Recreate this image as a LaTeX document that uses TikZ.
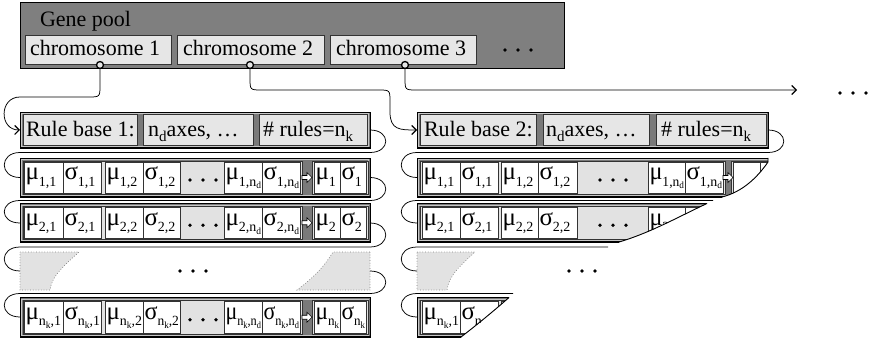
\documentclass[tikz,border=0pt]{standalone}
\usepackage{fontspec}
\setmainfont{Liberation Serif}
\usetikzlibrary{arrows.meta}

\definecolor{poolgray}{HTML}{7F7F7F}
\definecolor{framegray}{HTML}{7A7A7A}
\definecolor{cellgray}{HTML}{E6E6E6}
\definecolor{padgray}{HTML}{E2E2E2}
\definecolor{edgegray}{HTML}{333333}

% Greek parameter letters and their lowered indices
\newcommand\gmu{{\fontsize{25}{25}\selectfont μ}}
\newcommand\gsig{{\fontsize{25}{25}\selectfont σ}}
\newcommand\lowsub[1]{\raisebox{-6pt}{\fontsize{14}{14}\selectfont #1}}
\newcommand\lowsubsub[1]{\raisebox{-3pt}{\fontsize{9.5}{9.5}\selectfont #1}}
\newcommand\nksub{n\lowsubsub{k}}
\newcommand\ndsub{n\lowsubsub{d}}

% squeeze a label horizontally when it is wider than its cell
\newsavebox\cellcontent
\newcommand\fitcell[2]{%
  \sbox\cellcontent{#2}%
  \ifdim\wd\cellcontent>#1pt\relax\resizebox{#1pt}{\height}{\usebox\cellcontent}\else\usebox\cellcontent\fi}

% one parameter cell between two x positions of the current row
\newcommand\pcell[3]{%
  \pgfmathsetmacro\cellw{#2-#1-2.5}%
  \draw[whitecell] (#1,\rowtop+4) rectangle (#2,\rowbot-4);
  \node[gtxt] at (#1+1.5,\rowmid+2.5) {\fitcell{\cellw}{#3}};}
% three bullets, first x and y given
\newcommand\rowdots[2]{%
  \foreach \dx in {0,13,26} \fill (#1+\dx,#2) circle (1.8pt);}
% small hollow arrow between the parameter block and the rule block
\newcommand\hollowarrow[2]{%
  \draw[fill=white,line width=0.6pt] (#1,#2-2) -- (#1+5,#2-2) -- (#1+5,#2-5)
    -- (#1+10,#2) -- (#1+5,#2+5) -- (#1+5,#2+2) -- (#1,#2+2) -- cycle;}
% raised frame of a row
\newcommand\rowframe[4]{%
  \draw[framebox] (#1,#2) rectangle (#3,#4);
  \draw[gray!45,line width=0.5pt] (#1+1.4,#2+1.4) rectangle (#3-1.4,#4-1.4);
  \draw[black,line width=1.4pt] (#1,#4) -- (#3,#4);}

% a rule row of the first rule base: top, bottom, rule index
\newcommand\geneRowA[3]{%
  \pgfmathsetmacro\rowtop{#1}\pgfmathsetmacro\rowbot{#2}\pgfmathsetmacro\rowmid{(#1+#2)/2}%
  \rowframe{20}{\rowtop}{370}{\rowbot}
  \draw[padbox] (23,\rowtop+3) rectangle (302,\rowbot-3);
  \draw[padbox] (312,\rowtop+3) rectangle (368,\rowbot-3);
  \pcell{24}{63}{\gmu\lowsub{#3,1}}
  \pcell{63}{101}{\gsig\lowsub{#3,1}}
  \pcell{105}{143}{\gmu\lowsub{#3,2}}
  \pcell{143}{180}{\gsig\lowsub{#3,2}}
  \pcell{224}{262}{\gmu\lowsub{#3,\ndsub}}
  \pcell{262}{300}{\gsig\lowsub{#3,\ndsub}}
  \pcell{314}{340}{\gmu\lowsub{#3}}
  \pcell{340}{366}{\gsig\lowsub{#3}}
  \rowdots{190}{\rowmid+2.5}
  \hollowarrow{302}{\rowmid}}

% a rule row of the second rule base: top, bottom, rule index
\newcommand\geneRowB[3]{%
  \pgfmathsetmacro\rowtop{#1}\pgfmathsetmacro\rowbot{#2}\pgfmathsetmacro\rowmid{(#1+#2)/2}%
  \rowframe{417}{\rowtop}{795}{\rowbot}
  \draw[padbox] (420,\rowtop+3) rectangle (725,\rowbot-3);
  \draw[padbox] (731,\rowtop+3) rectangle (792,\rowbot-3);
  \pcell{422}{460}{\gmu\lowsub{#3,1}}
  \pcell{460}{498}{\gsig\lowsub{#3,1}}
  \pcell{501}{538}{\gmu\lowsub{#3,2}}
  \pcell{538}{577}{\gsig\lowsub{#3,2}}
  \pcell{648}{685}{\gmu\lowsub{#3,\ndsub}}
  \pcell{685}{723}{\gsig\lowsub{#3,\ndsub}}
  \pcell{733}{760}{}
  \pcell{760}{789}{}
  \rowdots{600}{\rowmid+2.5}
  \hollowarrow{723}{\rowmid}}

\begin{document}
\begin{tikzpicture}[x=1pt,y=-1pt,
  every node/.style={inner sep=0pt,outer sep=0pt},
  gtxt/.style={font=\fontsize{22}{24}\selectfont,anchor=base west},
  poolbox/.style={fill=poolgray,draw=black,line width=0.8pt},
  chrombox/.style={fill=cellgray,draw=edgegray,line width=0.8pt},
  framebox/.style={fill=framegray,draw=black,line width=0.9pt},
  rulecell/.style={fill=cellgray,draw=edgegray,line width=0.8pt},
  padbox/.style={fill=padgray,draw=edgegray,line width=0.6pt},
  whitecell/.style={fill=white,draw=edgegray,line width=0.6pt},
  link/.style={draw=black,line width=0.75pt},
  linkarrow/.style={-{Straight Barb[length=4.5pt,width=9pt,line width=1.1pt]}},
  gapshape/.style={fill=padgray,draw=gray,dotted,line width=0.7pt},
  cutline/.style={draw=black,line width=0.9pt},
  hook/.style={circle,draw=black,line width=1.3pt,fill=cellgray,minimum size=7pt},
]
\useasboundingbox (0,0) rectangle (872,339);

% ---------------- gene pool ----------------
\draw[poolbox] (20,2) rectangle (564,68);
\node[gtxt] (pooltitle) at (40,26.5) {Gene pool};
\draw[chrombox] (25,35) rectangle (171,64);
\draw[chrombox] (177,35) rectangle (324,64);
\draw[chrombox] (330,35) rectangle (476,64);
\node[gtxt] (ch1) at (30,56) {chromosome 1};
\node[gtxt] (ch2) at (183,56) {chromosome 2};
\node[gtxt] (ch3) at (336,56) {chromosome 3};
\rowdots{505}{50}
\node[hook] (k1) at (100,65) {};
\node[hook] (k2) at (250,65) {};
\node[hook] (k3) at (405,65) {};

% ---------------- rule base 1 ----------------
\rowframe{20}{112}{370}{148}
\draw[rulecell] (23,114.5) rectangle (137,145.5);
\draw[rulecell] (143,114.5) rectangle (253,145.5);
\draw[rulecell] (259,114.5) rectangle (367,145.5);
\node[gtxt] (rb1) at (26,137) {Rule base 1:};
\node[gtxt] (nd1) at (148,137) {n\raisebox{-4.5pt}{\fontsize{15}{15}\selectfont d}axes, …};
\node[gtxt] (nr1) at (263,137) {\# rules=n\raisebox{-4.5pt}{\fontsize{15}{15}\selectfont k}};

\geneRowA{158}{197}{1}
\geneRowA{203.5}{242}{2}
\draw[gapshape] (20,252) -- (79,252) .. controls (65,265) and (52,275) .. (50,290) -- (20,290) -- cycle;
\draw[gapshape] (370,252) -- (370,290) -- (297,290) .. controls (310,280) and (322,270) .. (333,252) -- cycle;
\rowdots{180}{271}
\geneRowA{297.5}{337}{\nksub}

% ---------------- rule base 2 ----------------
\rowframe{417}{112}{768}{148}
\draw[rulecell] (420,114.5) rectangle (536,145.5);
\draw[rulecell] (543,114.5) rectangle (649,145.5);
\draw[rulecell] (656,114.5) rectangle (766,145.5);
\node[gtxt] (rb2) at (424,137) {Rule base 2:};
\node[gtxt] (nd2) at (546,137) {n\raisebox{-4.5pt}{\fontsize{15}{15}\selectfont d}axes, …};
\node[gtxt] (nr2) at (661,137) {\# rules=n\raisebox{-4.5pt}{\fontsize{15}{15}\selectfont k}};

\begin{scope}
  \clip (405,150) -- (768,150) -- (768,162) .. controls (757,178) and (742,192) .. (722,197) -- (722,205) -- (405,205) -- cycle;
  \geneRowB{158}{197}{1}
\end{scope}
\draw[cutline] (768,158) -- (768,162) .. controls (757,178) and (742,192) .. (722,197);

\begin{scope}
  \clip (405,196) -- (707,196) -- (707,203.5) .. controls (680,216) and (650,233) .. (619,242) -- (619,250) -- (405,250) -- cycle;
  \geneRowB{203.5}{242}{2}
\end{scope}
\draw[cutline] (707,203.5) .. controls (680,216) and (650,233) .. (619,242);

\draw[gapshape] (417,252) -- (475,252) .. controls (461,265) and (449,275) .. (447,290) -- (417,290) -- cycle;
\rowdots{569}{271}

\begin{scope}
  \clip (405,292) -- (509,292) -- (509,297.5) .. controls (496,309) and (478,324) .. (461,337) -- (461,345) -- (405,345) -- cycle;
  \geneRowB{297.5}{337}{\nksub}
\end{scope}
\draw[cutline] (509,297.5) .. controls (496,309) and (478,324) .. (461,337);

\rowdots{840}{93}

% ---------------- row end points ----------------
\coordinate (A0w) at (20,130);    \coordinate (A0e) at (370,130);
\coordinate (A1w) at (20,177.5);  \coordinate (A1e) at (370,177.5);
\coordinate (A2w) at (20,223);    \coordinate (A2e) at (370,223);
\coordinate (A3w) at (20,271);    \coordinate (A3e) at (370,271);
\coordinate (A4w) at (20,317);
\coordinate (B0w) at (417,130);   \coordinate (B0e) at (768,130);
\coordinate (B1w) at (417,177.5);
\coordinate (B2w) at (417,223);
\coordinate (B3w) at (417,271);
\coordinate (B4w) at (417,317);
\coordinate (L1) at (0,152.5);
\coordinate (L2) at (0,200.5);
\coordinate (L3) at (0,247);
\coordinate (L4) at (0,293.5);
\coordinate (B1cut) at (713,200.5);
\coordinate (B2cut) at (608,247);
\coordinate (B3cut) at (513,293.5);
\coordinate (more) at (797,90);

% ---------------- chromosome links ----------------
\draw[link,linkarrow] (k1.south) -- (100,85) .. controls (100,97) .. (88,97) -- (20,97)
  .. controls (-1,97) and (-1,130) .. (A0w);
\draw[link,linkarrow] (k2.south) -- (250,78) .. controls (250,90) .. (262,90) -- (378,90)
  .. controls (390,90) .. (390,102) -- (390,112) .. controls (390,130) and (400,130) .. (B0w);
\draw[link,linkarrow] (k3.south) -- (405,78) .. controls (405,90) .. (417,90) -- (more);

% ---------------- row to row links ----------------
\foreach \a/\b/\l in {A0e/A1w/L1, A1e/A2w/L2, A2e/A3w/L3, A3e/A4w/L4}{
  \draw[link] (\a) .. controls +(21,0) and +(21,0) .. (\a |- \l) -- (\b |- \l)
    .. controls +(-21,0) and +(-21,0) .. (\b);}
\draw[link] (B0e) .. controls +(21,0) and +(21,0) .. (B0e |- L1) -- (B1w |- L1)
  .. controls +(-21,0) and +(-21,0) .. (B1w);
\foreach \c/\b in {B1cut/B2w, B2cut/B3w, B3cut/B4w}{
  \draw[link] (\c) -- (\b |- \c) .. controls +(-21,0) and +(-21,0) .. (\b);}
\end{tikzpicture}
\end{document}
